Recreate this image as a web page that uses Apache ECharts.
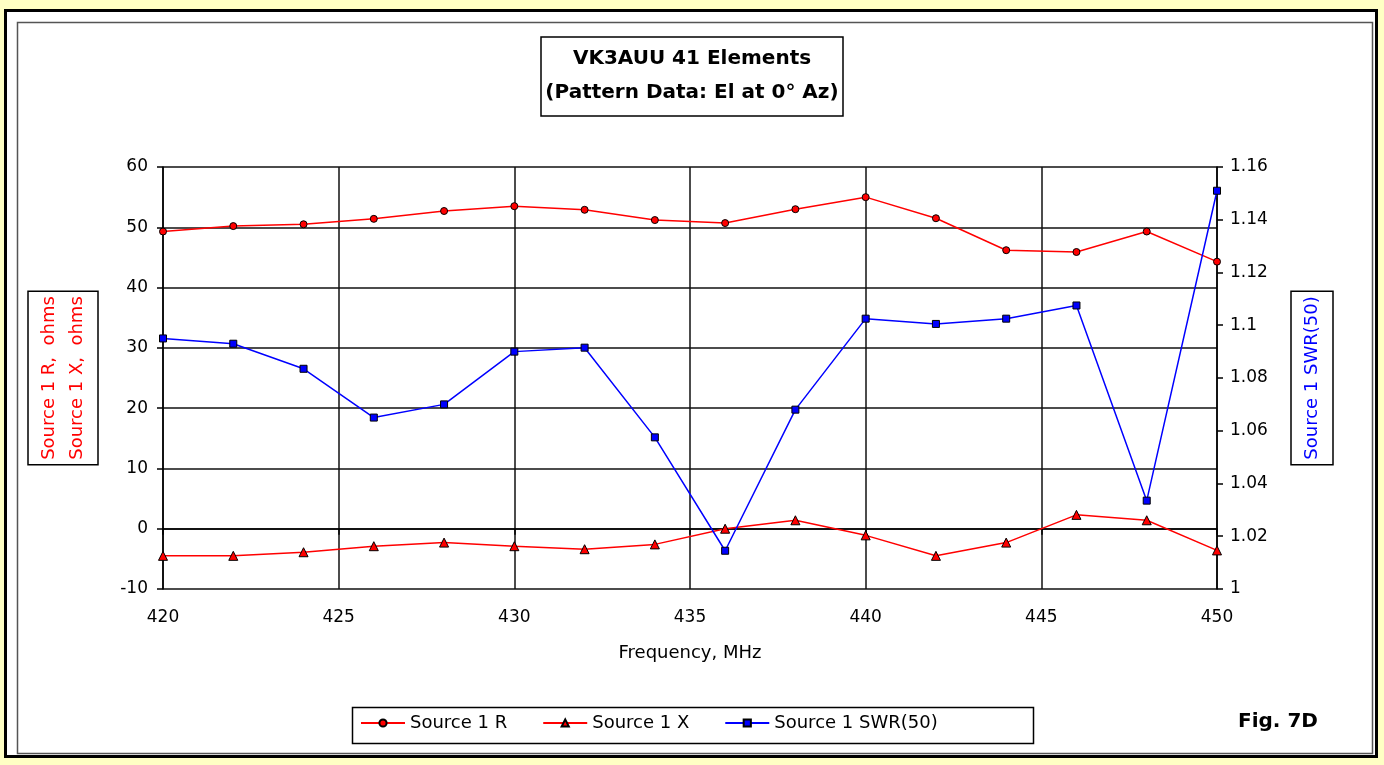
<!DOCTYPE html>
<html>
<head>
    <meta charset="utf-8">
    <title>VK3AUU 41 Elements</title>
    <script src="https://cdn.jsdelivr.net/npm/echarts@6.0.0/dist/echarts.min.js"></script>
    <style>
        body { margin: 0; background: #ffffc4; }
    </style>
</head>
<body>
    <div id="chart" style="width: 1384px;height:765px"></div>

    <script>
        // frequency, MHz
        const freq = [420, 422, 424, 426, 428, 430, 432, 434, 436, 438, 440, 442, 444, 446, 448, 450]
        // Source 1 R, ohms
        const srcR = [49.3, 50.2, 50.5, 51.4, 52.7, 53.5, 52.9, 51.2, 50.7, 53.0, 55.0, 51.5, 46.2, 45.9, 49.3, 44.3]
        // Source 1 X, ohms
        const srcX = [-4.5, -4.5, -3.9, -2.9, -2.3, -2.9, -3.4, -2.6, 0.0, 1.4, -1.1, -4.5, -2.3, 2.3, 1.4, -3.6]
        // Source 1 SWR(50)
        const swr = [1.095, 1.093, 1.0835, 1.065, 1.070, 1.090, 1.0915, 1.0575, 1.0145, 1.068, 1.1025, 1.1005, 1.1025, 1.1075, 1.0335, 1.151]

        const pairs = vals => freq.map((f, i) => [f, vals[i]])
        const font = 'DejaVu Sans'

        const chart = echarts.init(document.getElementById('chart'))
        chart.setOption({
            backgroundColor: '#ffffc4',
            animation: false,
            textStyle: { fontFamily: font },
            graphic: [
                { type: 'rect', z: -10, shape: { x: 5.5, y: 10.5, width: 1371, height: 746 },
                  style: { fill: '#fff', stroke: '#000', lineWidth: 3 } },
                { type: 'rect', z: -9, shape: { x: 17.5, y: 22.5, width: 1355, height: 731 },
                  style: { fill: 'none', stroke: '#555', lineWidth: 1.5 } },
                { type: 'rect', z: -9, shape: { x: 352.5, y: 707.5, width: 681, height: 36 },
                  style: { fill: 'none', stroke: '#000', lineWidth: 1.5 } },
                { type: 'text', left: 1238, top: 712,
                  style: { text: 'Fig. 7D', font: 'bold 20px "DejaVu Sans"', fill: '#000' } }
            ],
            title: {
                text: 'VK3AUU 41 Elements\n(Pattern Data: El at 0° Az)',
                left: 'center',
                top: 37,
                padding: [5, 5, 6, 5],
                borderColor: '#000',
                borderWidth: 1.5,
                textStyle: { fontFamily: font, fontSize: 20, fontWeight: 'bold', color: '#000', lineHeight: 34 }
            },
            legend: {
                left: 360,
                top: 714,
                padding: 0,
                itemWidth: 44,
                itemHeight: 9,
                itemGap: 35,
                textStyle: { fontFamily: font, fontSize: 18, color: '#000' },
                data: ['Source 1 R', 'Source 1 X', 'Source 1 SWR(50)']
            },
            grid: { left: 163, right: 167, top: 167, bottom: 176 },
            xAxis: {
                type: 'value',
                min: 420, max: 450, interval: 5,
                name: 'Frequency, MHz',
                nameLocation: 'middle',
                nameGap: 55,
                nameTextStyle: { fontFamily: font, fontSize: 18, color: '#000' },
                axisLine: { lineStyle: { color: '#000', width: 1.5 } },
                axisTick: { show: true, length: 6, lineStyle: { color: '#000', width: 1.5 } },
                axisLabel: { margin: 20, fontFamily: font, fontSize: 17, color: '#000' },
                splitLine: { show: true, lineStyle: { color: '#111', width: 1.5 } }
            },
            yAxis: [{
                type: 'value',
                min: -10, max: 60, interval: 10,
                name: 'Source 1 R,  ohms\nSource 1 X,  ohms',
                nameLocation: 'middle',
                nameGap: 65,
                nameTextStyle: {
                    fontFamily: font, fontSize: 18, color: '#ff0000', lineHeight: 28,
                    borderColor: '#000', borderWidth: 1.5, padding: [7, 5, 7, 5]
                },
                axisLine: { show: true, lineStyle: { color: '#000', width: 1.5 } },
                axisTick: { show: true, length: 6, lineStyle: { color: '#000', width: 1.5 } },
                axisLabel: { margin: 15, fontFamily: font, fontSize: 17, color: '#000' },
                splitLine: { show: true, lineStyle: { color: '#111', width: 1.5 } }
            }, {
                type: 'value',
                position: 'right',
                min: 1, max: 1.16, interval: 0.02,
                name: 'Source 1 SWR(50)',
                nameLocation: 'middle',
                nameGap: 74,
                nameTextStyle: {
                    fontFamily: font, fontSize: 18, color: '#0000ff',
                    borderColor: '#000', borderWidth: 1.5, padding: [12, 5, 12, 5]
                },
                axisLine: { show: true, lineStyle: { color: '#000', width: 1.5 } },
                axisTick: { show: true, length: 6, lineStyle: { color: '#000', width: 1.5 } },
                axisLabel: {
                    margin: 13, fontFamily: font, fontSize: 17, color: '#000',
                    formatter: v => String(parseFloat(v.toFixed(2)))
                },
                splitLine: { show: false }
            }],
            series: [{
                name: 'Source 1 R',
                type: 'line',
                yAxisIndex: 0,
                data: pairs(srcR),
                symbol: 'circle',
                symbolSize: 7,
                lineStyle: { color: '#ff0000', width: 1.5 },
                itemStyle: { color: '#ff0000', borderColor: '#000', borderWidth: 1 }
            }, {
                name: 'Source 1 X',
                type: 'line',
                yAxisIndex: 0,
                data: pairs(srcX),
                symbol: 'triangle',
                symbolSize: 9,
                lineStyle: { color: '#ff0000', width: 1.5 },
                itemStyle: { color: '#ff0000', borderColor: '#000', borderWidth: 1 }
            }, {
                name: 'Source 1 SWR(50)',
                type: 'line',
                yAxisIndex: 1,
                data: pairs(swr),
                symbol: 'rect',
                symbolSize: 7,
                lineStyle: { color: '#0000ff', width: 1.5 },
                itemStyle: { color: '#0000ff', borderColor: '#000', borderWidth: 1 }
            }]
        })
    </script>
</body>
</html>
